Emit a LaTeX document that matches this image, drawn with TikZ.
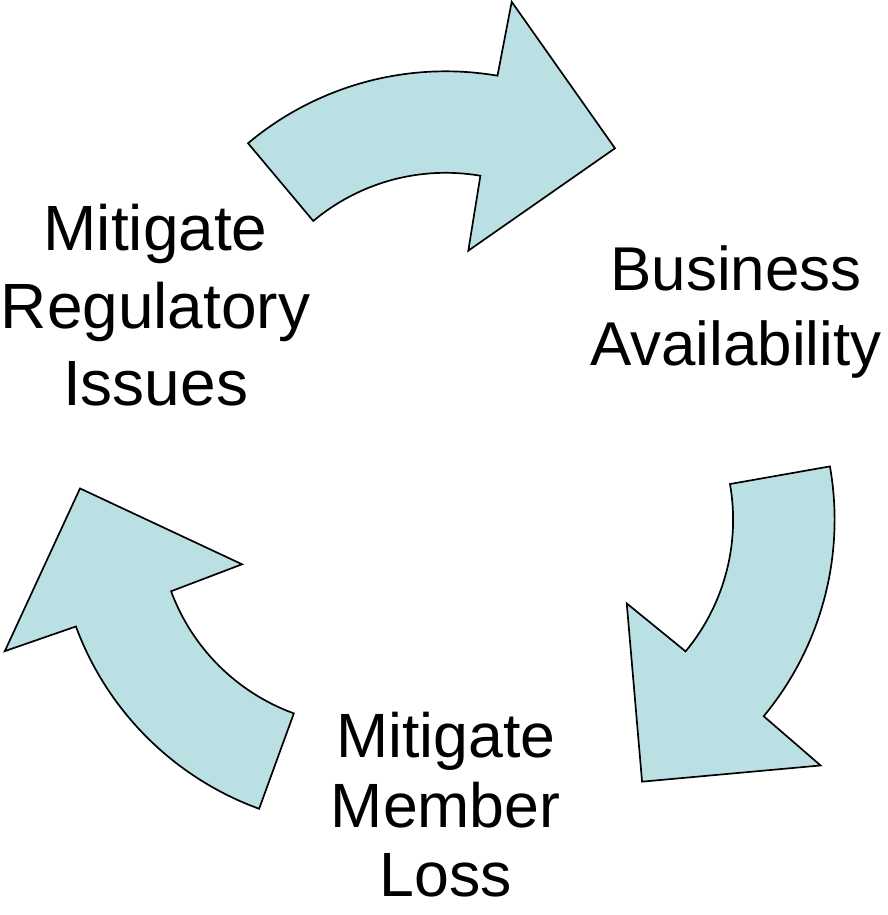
\documentclass[tikz,border=0pt]{standalone}
\usepackage{fontspec}
\setmainfont{Liberation Sans}
\usetikzlibrary{positioning}
\definecolor{arrowFill}{HTML}{BBE0E3}

\begin{document}
\begin{tikzpicture}[x=0.025cm, y=0.025cm]
	\tikzstyle{cycleArrow}=[draw=black, fill=arrowFill, line width=1.2pt, line join=miter]
	\tikzstyle{cycleText}=[align=center, inner sep=0pt, font=\fontsize{44}{53}\selectfont]
	\useasboundingbox (-445.7, -442.2) rectangle (442.3, 472.8);

	\foreach \rotation in {0, -120, -240} {
		\begin{scope}[rotate=\rotation]
			\path[cycleArrow] ([shift={(0,94)}]130:307.5) arc[start angle=130, end angle=80.3, radius=307.5]
				-- (66, 471) -- (169.3, 324.5) -- (22.6, 222.1)
				-- ([shift={(0,94)}]80.3:206) arc[start angle=80.3, end angle=130, radius=206] -- cycle;
		\end{scope}
	}

	\node[cycleText] at (29:332) (businessAvailability) {Business\\Availability};
	\node[cycleText, font=\fontsize{44.5}{49.5}\selectfont] at (-90:332) (memberLoss) {Mitigate\\Member\\Loss};
	\node[cycleText, font=\fontsize{45.5}{55}\selectfont] at (150:335) (regulatoryIssues) {Mitigate\\Regulatory\\Issues};
\end{tikzpicture}
\end{document}
